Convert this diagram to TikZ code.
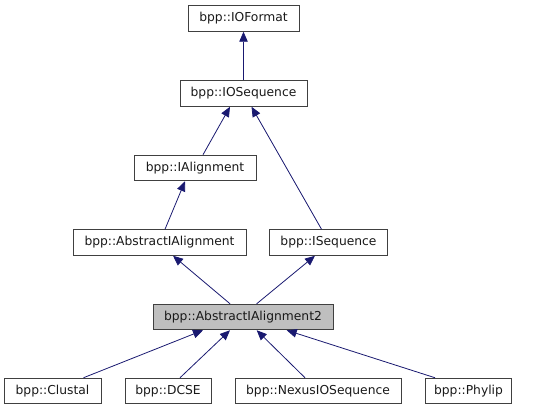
\documentclass[tikz,border=0pt]{standalone}
\usepackage{fontspec}
\setmainfont{DejaVu Sans}
\usetikzlibrary{arrows.meta}
\definecolor{edgecol}{HTML}{191970}
\definecolor{bordercol}{HTML}{404040}
\definecolor{curfill}{HTML}{BFBFBF}
\tikzset{
  cls/.style={draw=bordercol, line width=1pt, fill=white, minimum height=25.5pt, inner sep=0pt, font=\fontsize{12.3}{14}\selectfont, text=black!90},
  cur/.style={cls, fill=curfill},
  inh/.style={draw=edgecol, line width=0.8pt, -{Triangle[length=10pt,width=8.5pt]}}
}
\begin{document}
\begin{tikzpicture}[x=1pt,y=-1pt]
\useasboundingbox (0,0) rectangle (538,411);
\node[cls, minimum width=111pt] (iof) at (243.5,18.5) {bpp::IOFormat};
\node[cls, minimum width=127pt] (ios) at (243.5,93.5) {bpp::IOSequence};
\node[cls, minimum width=122pt] (ial) at (195,168) {bpp::IAlignment};
\node[cls, minimum width=173pt] (aia) at (159.5,242.5) {bpp::AbstractIAlignment};
\node[cls, minimum width=118pt] (iseq) at (328.5,242.5) {bpp::ISequence};
\node[cur, minimum width=180pt] (aia2) at (243,317) {bpp::AbstractIAlignment2};
\node[cls, minimum width=97pt] (clu) at (52.5,391) {bpp::Clustal};
\node[cls, minimum width=86pt] (dcse) at (168,391) {bpp::DCSE};
\node[cls, minimum width=166pt] (nex) at (318,391) {bpp::NexusIOSequence};
\node[cls, minimum width=86pt] (phy) at (468.5,391) {bpp::Phylip};
\draw[inh] (ios.north) -- (iof.south);
\draw[inh] ([xshift=8pt]ial.north) -- ([xshift=-13.5pt]ios.south);
\draw[inh] ([xshift=-7pt]iseq.north) -- ([xshift=8pt]ios.south);
\draw[inh] ([xshift=5.5pt]aia.north) -- ([xshift=-10pt]ial.south);
\draw[inh] ([xshift=-13pt]aia2.north) -- ([xshift=13.5pt]aia.south);
\draw[inh] ([xshift=13.7pt]aia2.north) -- ([xshift=-13.5pt]iseq.south);
\draw[inh] ([xshift=31pt]clu.north) -- ([xshift=-40pt]aia2.south);
\draw[inh] ([xshift=12pt]dcse.north) -- ([xshift=-13pt]aia2.south);
\draw[inh] ([xshift=-13pt]nex.north) -- ([xshift=13.7pt]aia2.south);
\draw[inh] ([xshift=-33.5pt]phy.north) -- ([xshift=43.7pt]aia2.south);
\end{tikzpicture}
\end{document}
